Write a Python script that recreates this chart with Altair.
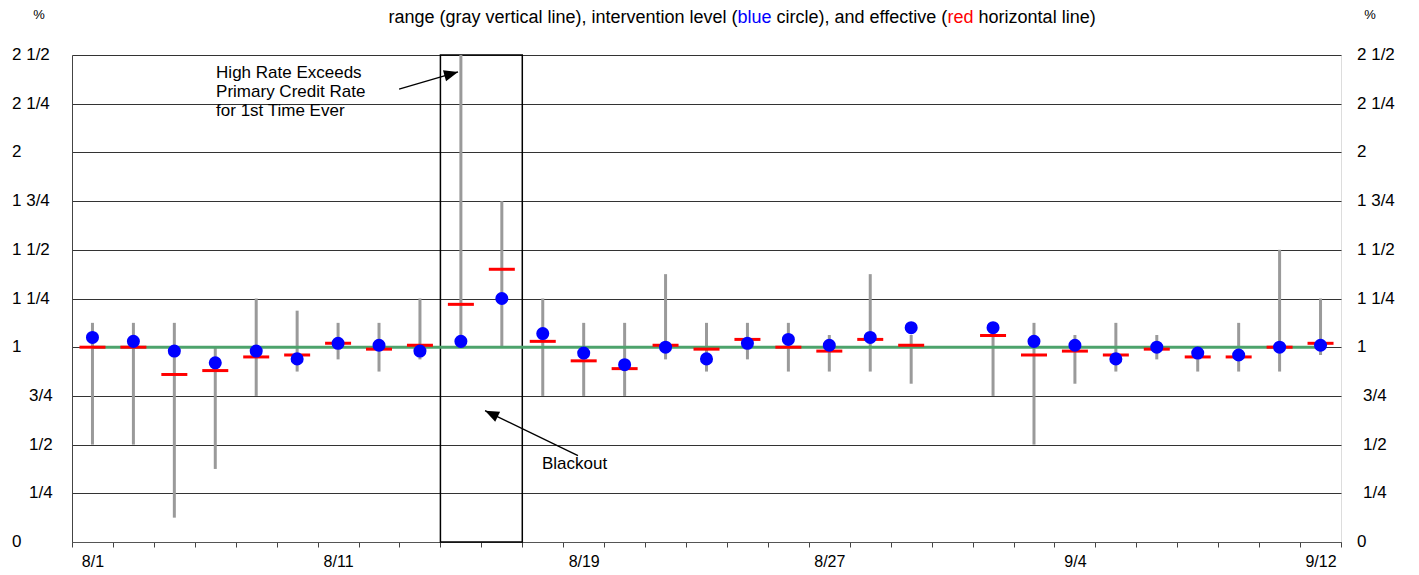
import altair as alt
import pandas as pd

# business days, 8/1 to 9/12 (9/1 is Labor Day, no data)
dates = ["8/1", "8/4", "8/5", "8/6", "8/7", "8/8", "8/11", "8/12", "8/13", "8/14",
         "8/15", "8/18", "8/19", "8/20", "8/21", "8/22", "8/25", "8/26", "8/27", "8/28",
         "8/29", "9/1", "9/2", "9/3", "9/4", "9/5", "9/8", "9/9", "9/10", "9/11", "9/12"]
range_high = [1.125, 1.125, 1.125, 1.0, 1.25, 1.1875, 1.125, 1.125, 1.25, 2.5,
              1.75, 1.25, 1.125, 1.125, 1.375, 1.125, 1.125, 1.125, 1.0625, 1.375,
              1.0625, None, 1.0625, 1.125, 1.0625, 1.125, 1.0625, 1.0, 1.125, 1.5, 1.25]
range_low = [0.5, 0.5, 0.125, 0.375, 0.75, 0.875, 0.9375, 0.875, 0.9375, 1.0,
             1.0, 0.75, 0.75, 0.75, 0.9375, 0.875, 0.9375, 0.875, 0.875, 0.875,
             0.8125, None, 0.75, 0.5, 0.8125, 0.875, 0.9375, 0.875, 0.875, 0.875, 0.96]
intervention = [1.05, 1.03, 0.98, 0.92, 0.98, 0.94, 1.02, 1.01, 0.98, 1.03,
                1.25, 1.07, 0.97, 0.91, 1.0, 0.94, 1.02, 1.04, 1.01, 1.05,
                1.10, None, 1.10, 1.03, 1.01, 0.94, 1.0, 0.97, 0.96, 1.0, 1.01]
effective = [1.0, 1.0, 0.86, 0.88, 0.95, 0.96, 1.02, 0.99, 1.01, 1.22,
             1.40, 1.03, 0.93, 0.89, 1.01, 0.99, 1.04, 1.0, 0.98, 1.04,
             1.01, None, 1.06, 0.96, 0.98, 0.96, 0.99, 0.95, 0.95, 1.0, 1.02]
target = [1.0] * len(dates)

blackout_days = ["8/14", "8/15"]
label_dates = ["8/1", "8/11", "8/19", "8/27", "9/4", "9/12"]

y_ticks = [0, 0.25, 0.5, 0.75, 1.0, 1.25, 1.5, 1.75, 2.0, 2.25, 2.5]
y_tick_text = ["0", "1/4", "1/2", "3/4", "1", "1 1/4", "1 1/2", "1 3/4", "2", "2 1/4", "2 1/2"]

W, H = 1269, 487
N = len(dates)
FONT = "Liberation Sans"

df = pd.DataFrame({
    "date": dates,
    "pos": [i + 0.5 for i in range(N)],
    "high": range_high,
    "low": range_low,
    "interv": intervention,
    "eff": effective,
    "target": target,
})

xscale = alt.Scale(domain=[0, N], nice=False, zero=False)
yscale = alt.Scale(domain=[0, 2.5], nice=False, zero=False)

label_js = "[" + ",".join(f"'{d}'" for d in label_dates) + "]"
x_axis = alt.Axis(
    values=list(range(N + 1)), grid=False, tickSize=5, tickColor="#444",
    domainColor="#555", labelExpr=f"datum.value % 6 == 0 && datum.value < {N} ? {label_js}[datum.value / 6] : ''",
    labelOffset=W / N / 2, labelFlush=False, labelOverlap=False, labelBound=False,
    labelFontSize=16, labelFont=FONT, labelColor="black", labelPadding=6, title=None,
)
y_axis = alt.Axis(values=y_ticks, grid=True, gridColor="#333", gridWidth=1, labels=False,
                  ticks=False, domainColor="#444", title=None)

X = alt.X("pos:Q", scale=xscale, axis=x_axis)
base = alt.Chart(df)

# blackout box
b0 = dates.index(blackout_days[0])
b1 = dates.index(blackout_days[-1]) + 1
box = alt.Chart(pd.DataFrame({"x0": [b0], "x1": [b1], "y0": [0.0], "y1": [2.5]})).mark_rect(
    fillOpacity=0, stroke="black", strokeWidth=1.5
).encode(
    x=alt.X("x0:Q", scale=xscale, axis=x_axis), x2="x1:Q",
    y=alt.Y("y0:Q", scale=yscale, axis=y_axis), y2="y1:Q",
)

rng = base.mark_rule(color="#9a9a9a", strokeWidth=3).encode(
    x=X, y=alt.Y("low:Q", scale=yscale, axis=y_axis), y2="high:Q"
)
tgt = base.mark_line(color="#4da36c", strokeWidth=3).encode(
    x=X, y=alt.Y("target:Q", scale=yscale, axis=y_axis)
)
eff = base.mark_tick(orient="horizontal", color="#ff0000", size=26, thickness=3, opacity=1).encode(
    x=X, y=alt.Y("eff:Q", scale=yscale, axis=y_axis)
)
itv = base.mark_circle(color="#0000ff", size=170, opacity=1).encode(
    x=X, y=alt.Y("interv:Q", scale=yscale, axis=y_axis)
)

# annotations
note_df = pd.DataFrame({
    "x": [3.52, 3.52, 3.52, 11.48],
    "y": [2.408, 2.310, 2.212, 0.40],
    "t": ["High Rate Exceeds", "Primary Credit Rate", "for 1st Time Ever", "Blackout"],
})
notes = alt.Chart(note_df).mark_text(align="left", baseline="middle", fontSize=17, font=FONT,
                                     color="black").encode(
    x=alt.X("x:Q", scale=xscale, axis=x_axis), y=alt.Y("y:Q", scale=yscale, axis=y_axis), text="t:N"
)
arrow_df = pd.DataFrame({
    "x0": [7.99, 12.36], "y0": [2.325, 0.443],
    "x1": [9.43, 10.09], "y1": [2.413, 0.674],
    "ang": [74.2, 295.8],
})
arrow_lines = alt.Chart(arrow_df).mark_rule(color="black", strokeWidth=1.3).encode(
    x=alt.X("x0:Q", scale=xscale, axis=x_axis), x2="x1:Q",
    y=alt.Y("y0:Q", scale=yscale, axis=y_axis), y2="y1:Q",
)
arrow_heads = alt.Chart(arrow_df).mark_point(
    shape="M0,0L0.6,1.5L-0.6,1.5Z", filled=True, color="black", opacity=1, size=350
).encode(
    x=alt.X("x1:Q", scale=xscale, axis=x_axis), y=alt.Y("y1:Q", scale=yscale, axis=y_axis),
    angle=alt.Angle("ang:Q", scale=None),
)

# y tick labels (fraction style, both sides)
ylab = pd.DataFrame({"v": y_ticks, "t": y_tick_text})
ylab["frac_only"] = [("/" in t and " " not in t) for t in y_tick_text]


def tick_labels(frac_only, px):
    return alt.Chart(ylab[ylab["frac_only"] == frac_only]).mark_text(
        align="left", baseline="middle", fontSize=17, font=FONT, color="black"
    ).encode(x=alt.value(px), y=alt.Y("v:Q", scale=yscale, axis=y_axis), text="t:N")


ylabels = [tick_labels(False, -60), tick_labels(True, -43),
           tick_labels(False, W + 16), tick_labels(True, W + 22)]

pct = [
    alt.Chart(pd.DataFrame({"t": ["%"]})).mark_text(
        fontSize=13, font=FONT, color="black", baseline="middle"
    ).encode(x=alt.value(px), y=alt.value(-40), text="t:N")
    for px in (-33, W + 29)
]

# subtitle line with coloured words
ARIAL = {" ": 278, "(": 333, ")": 333, ",": 278, "a": 556, "b": 556, "c": 500, "d": 556,
         "e": 556, "f": 278, "g": 556, "h": 556, "i": 222, "k": 500, "l": 222, "m": 833,
         "n": 556, "o": 556, "r": 333, "s": 500, "t": 278, "u": 556, "v": 500, "y": 500,
         "z": 500}
TITLE_SIZE = 18


def text_w(s):
    return sum(ARIAL.get(c, 556) for c in s) * TITLE_SIZE / 1000


segments = [("range (gray vertical line), intervention level (", "black"), ("blue", "#0000ff"),
            (" circle), and effective (", "black"), ("red", "#ff0000"), (" horizontal line)", "black")]
total = sum(text_w(s) for s, _ in segments)
cursor = (742 - 72) - total / 2
title_layers = []
for s, col in segments:
    lead = len(s) - len(s.lstrip())
    title_layers.append(
        alt.Chart(pd.DataFrame({"t": [s.strip()]})).mark_text(
            align="left", baseline="top", fontSize=TITLE_SIZE, font=FONT, color=col
        ).encode(x=alt.value(cursor + text_w(s[:lead])), y=alt.value(-46), text="t:N")
    )
    cursor += text_w(s)

chart = alt.layer(
    box, rng, tgt, eff, itv, notes, arrow_lines, arrow_heads, *ylabels, *pct, *title_layers
).properties(
    width=W, height=H,
    autosize=alt.AutoSizeParams(type="none"),
    padding={"left": 64, "top": 47, "right": 60, "bottom": 30},
).configure_view(stroke="black", strokeWidth=1.2).configure(background="white")

chart.save("out.html", embed_options={"renderer": "svg", "actions": False})
